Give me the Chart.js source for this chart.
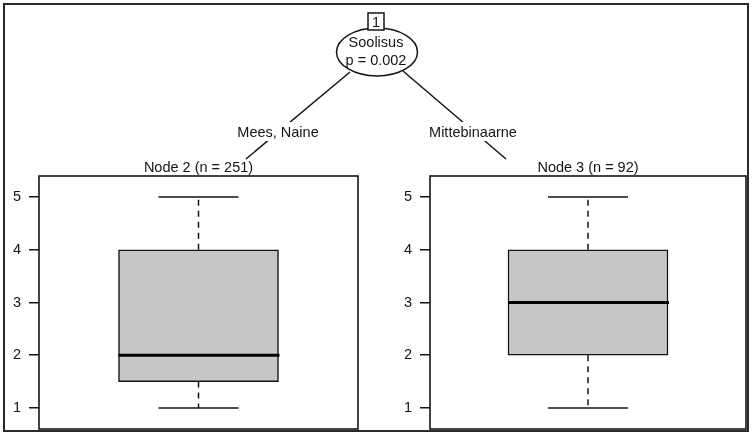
<!DOCTYPE html>
<html>
<head>
<meta charset="utf-8">
<script src="https://cdn.jsdelivr.net/npm/chart.js@4/dist/chart.umd.min.js"></script>
<style>
  html, body { margin: 0; padding: 0; background: #ffffff; }
  #wrap { position: relative; width: 752px; height: 440px; overflow: hidden; background: #ffffff; }
  canvas { position: absolute; }
  #tree { position: absolute; left: 0; top: 0; pointer-events: none; }
</style>
</head>
<body>
<div id="wrap">
  <canvas id="node2" width="372" height="284" style="left:0px;top:156px;"></canvas>
  <canvas id="node3" width="380" height="284" style="left:372px;top:156px;"></canvas>
  <svg id="tree" width="752" height="440" xmlns="http://www.w3.org/2000/svg"></svg>
</div>
<script>
// Conditional inference tree: one split on "Soolisus", two terminal nodes with boxplots.
const splitVariable = 'Soolisus';
const splitPValue = 'p = 0.002';
const rootId = '1';
const edgeLabels = ['Mees, Naine', 'Mittebinaarne'];
const nodeTitles = ['Node 2 (n = 251)', 'Node 3 (n = 92)'];

// Boxplot statistics per terminal node
const whiskerLow  = [1, 1];
const lowerQuart  = [1.5, 2];
const medians     = [2, 3];
const upperQuart  = [4, 4];
const whiskerHigh = [5, 5];

// Y axis
const yTicks = [1, 2, 3, 4, 5];
const yMin = 0.6;
const yMax = 5.4;

const FONT = '"Liberation Sans", Arial, Helvetica, sans-serif';
const INK = '#141414';

// Whiskers, caps, median and panel frame, placed with the chart's own scales
const boxplotParts = {
  id: 'boxplotParts',
  afterDatasetsDraw(chart, args, opts) {
    const i = opts.node;
    const ctx = chart.ctx;
    const y = chart.scales.y;
    const bar = chart.getDatasetMeta(0).data[0];
    const cx = bar.x;
    const half = bar.width / 2;
    const cap = half / 2;
    ctx.save();
    ctx.strokeStyle = INK;
    // dashed whiskers
    ctx.lineWidth = 1.5;
    ctx.setLineDash([6, 5]);
    ctx.beginPath();
    ctx.moveTo(cx, y.getPixelForValue(upperQuart[i]));
    ctx.lineTo(cx, y.getPixelForValue(whiskerHigh[i]));
    ctx.moveTo(cx, y.getPixelForValue(lowerQuart[i]));
    ctx.lineTo(cx, y.getPixelForValue(whiskerLow[i]));
    ctx.stroke();
    // whisker caps
    ctx.setLineDash([]);
    ctx.beginPath();
    ctx.moveTo(cx - cap, y.getPixelForValue(whiskerHigh[i]));
    ctx.lineTo(cx + cap, y.getPixelForValue(whiskerHigh[i]));
    ctx.moveTo(cx - cap, y.getPixelForValue(whiskerLow[i]));
    ctx.lineTo(cx + cap, y.getPixelForValue(whiskerLow[i]));
    ctx.stroke();
    // median
    ctx.lineWidth = 3;
    ctx.strokeStyle = '#000000';
    ctx.beginPath();
    ctx.moveTo(cx - half, y.getPixelForValue(medians[i]));
    ctx.lineTo(cx + half + 1, y.getPixelForValue(medians[i]));
    ctx.stroke();
    ctx.restore();
  },
  afterDraw(chart, args, opts) {
    const ctx = chart.ctx;
    const a = chart.chartArea;
    ctx.save();
    ctx.strokeStyle = INK;
    ctx.lineWidth = 1.6;
    ctx.strokeRect(a.left, a.top, a.right - a.left, a.bottom - a.top);
    ctx.fillStyle = INK;
    ctx.font = '14.5px ' + FONT;
    ctx.textAlign = 'center';
    ctx.textBaseline = 'alphabetic';
    ctx.fillText(nodeTitles[opts.node], (a.left + a.right) / 2, a.top - 4);
    ctx.restore();
  }
};

function makePanel(canvasId, node, axisWidth, padRight) {
  return new Chart(document.getElementById(canvasId), {
    type: 'bar',
    data: {
      labels: [nodeTitles[node]],
      datasets: [{
        data: [[lowerQuart[node], upperQuart[node]]],
        backgroundColor: '#c6c6c6',
        borderColor: INK,
        borderWidth: 1.5,
        borderSkipped: false,
        barThickness: 160
      }]
    },
    options: {
      responsive: false,
      animation: false,
      devicePixelRatio: 1,
      layout: { padding: { left: 0, right: padRight, top: 20, bottom: 11 } },
      plugins: {
        legend: { display: false },
        tooltip: { enabled: false },
        boxplotParts: { node: node }
      },
      scales: {
        x: { display: false },
        y: {
          min: yMin,
          max: yMax,
          afterBuildTicks: s => { s.ticks = yTicks.map(v => ({ value: v })); },
          afterFit: s => { s.width = axisWidth; s.paddingTop = 0; s.paddingBottom = 0; },
          ticks: {
            color: INK,
            padding: 8,
            font: { family: FONT, size: 14.5 },
            callback: v => String(v)
          },
          grid: { drawOnChartArea: false, tickLength: 10, color: INK, lineWidth: 1.5 },
          border: { display: false }
        }
      }
    },
    plugins: [boxplotParts]
  });
}

makePanel('node2', 0, 39, 14);
makePanel('node3', 1, 58, 6);

// Tree skeleton: root node, edges with split labels, outer frame
const svg = document.getElementById('tree');
const NS = 'http://www.w3.org/2000/svg';
function el(tag, attrs, text) {
  const e = document.createElementNS(NS, tag);
  for (const k in attrs) e.setAttribute(k, attrs[k]);
  if (text !== undefined) e.textContent = text;
  svg.appendChild(e);
  return e;
}
const txt = { 'font-family': FONT, 'font-size': '14.5px', fill: INK, 'text-anchor': 'middle' };

el('rect', { x: 4, y: 4, width: 744, height: 427, fill: 'none', stroke: '#2a2a2a', 'stroke-width': 2 });

el('line', { x1: 350, y1: 72, x2: 246, y2: 159, stroke: INK, 'stroke-width': 1.5 });
el('line', { x1: 403, y1: 71, x2: 506, y2: 159, stroke: INK, 'stroke-width': 1.5 });

el('rect', { x: 234, y: 122, width: 88, height: 19, fill: '#ffffff' });
el('text', Object.assign({ x: 278, y: 137.4 }, txt), edgeLabels[0]);
el('rect', { x: 426, y: 122, width: 94, height: 19, fill: '#ffffff' });
el('text', Object.assign({ x: 473, y: 137.4 }, txt), edgeLabels[1]);

el('ellipse', { cx: 377, cy: 52, rx: 40.5, ry: 24, fill: '#ffffff', stroke: INK, 'stroke-width': 1.5 });
el('text', Object.assign({ x: 376, y: 47.4 }, txt), splitVariable);
el('text', Object.assign({ x: 376, y: 65.4 }, txt), splitPValue);

el('rect', { x: 368, y: 13, width: 16, height: 17, fill: '#ffffff', stroke: INK, 'stroke-width': 1.5 });
el('text', Object.assign({ x: 376, y: 27 }, txt), rootId);
</script>
</body>
</html>
